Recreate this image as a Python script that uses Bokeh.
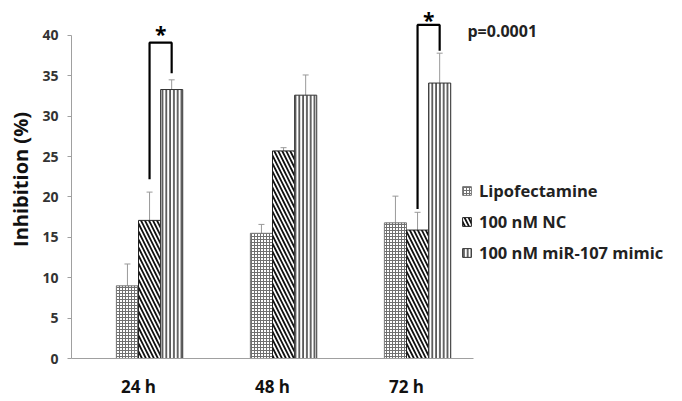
from bokeh.plotting import figure
from bokeh.models import (ColumnDataSource, Whisker, TeeHead, FixedTicker, Range1d,
                          Legend, LegendItem, Label)
from bokeh.core.properties import value
from bokeh.embed import file_html
from bokeh.resources import INLINE

# ---- data ----
categories = ["24 h", "48 h", "72 h"]
series_names = ["Lipofectamine", "100 nM NC", "100 nM miR-107 mimic"]
lipo = [9.0, 15.5, 16.8]
lipo_err = [2.7, 1.1, 3.3]
nc = [17.1, 25.7, 15.9]
nc_err = [3.5, 0.4, 2.2]
mimic = [33.3, 32.6, 34.1]
mimic_err = [1.2, 2.5, 3.7]
y_ticks = [0, 5, 10, 15, 20, 25, 30, 35, 40]

# significance brackets (between NC and mimic bars)
bracket_cat = [0, 2]
bracket_left_bottom = [22.2, 18.5]
bracket_top = [39.1, 41.3]
bracket_right_bottom = [35.3, 38.1]
star_y = [40.2, 41.9]
p_text = "p=0.0001"
p_y = 40.5

FONT = "Open Sans"
BAR_W = 0.165

p = figure(width=680, height=400, output_backend="svg", toolbar_location=None,
           x_range=Range1d(0, 609 / 134), y_range=Range1d(0, 359 / 8.1),
           min_border_left=71, min_border_right=0, min_border_top=0, min_border_bottom=41)
p.outline_line_color = None
p.xgrid.visible = False
p.ygrid.visible = False
p.background_fill_color = "white"

centers = [i + 0.5 for i in range(len(categories))]
offsets = [-0.5 * BAR_W, 0.5 * BAR_W, 1.5 * BAR_W]
vals = [lipo, nc, mimic]
errs = [lipo_err, nc_err, mimic_err]
styles = [
    dict(fill_color="white", line_color="#777777", hatch_pattern="+", hatch_color="#707070",
         hatch_scale=3.0, hatch_weight=1.0),
    dict(fill_color="white", line_color="#222222", hatch_pattern="\\", hatch_color="#111111",
         hatch_scale=8, hatch_weight=1.8),
    dict(fill_color="white", line_color="#333333", hatch_pattern="|", hatch_color="#444444",
         hatch_scale=3.8, hatch_weight=1.6),
]

renderers = []
for k in range(3):
    xs = [c + offsets[k] for c in centers]
    src = ColumnDataSource(dict(x=xs, top=vals[k],
                                upper=[v + e for v, e in zip(vals[k], errs[k])],
                                lower=[v - e for v, e in zip(vals[k], errs[k])]))
    r = p.vbar(x="x", top="top", bottom=0, width=BAR_W, source=src, line_width=1, **styles[k])
    renderers.append(r)
    w = Whisker(base="x", upper="upper", lower="lower", source=src,
                line_color="#999999", line_width=1,
                upper_head=TeeHead(size=6, line_color="#999999", line_width=1),
                lower_head=TeeHead(size=6, line_color="#999999", line_width=1))
    p.add_layout(w)

# brackets
for i, c in enumerate(bracket_cat):
    xl = centers[c] + offsets[1]
    xr = centers[c] + offsets[2]
    p.line([xl, xl, xr, xr],
           [bracket_left_bottom[i], bracket_top[i], bracket_top[i], bracket_right_bottom[i]],
           line_color="black", line_width=2.2)
    p.text(x=[(xl + xr) / 2], y=[star_y[i]], text=["*"],
           text_font=value(FONT), text_font_style="bold", text_font_size="21px",
           text_align="center", text_baseline="middle", text_color="black")

p.add_layout(Label(x=2.955, y=p_y, text=p_text, text_font=FONT, text_font_style="bold",
                   text_font_size="16px", text_baseline="middle", text_align="left",
                   text_color="#222222"))

# axes
p.yaxis.ticker = FixedTicker(ticks=y_ticks)
p.yaxis.bounds = (0, 40)
p.yaxis.axis_label = "Inhibition (%)"
p.yaxis.axis_label_text_font = FONT
p.yaxis.axis_label_text_font_style = "bold"
p.yaxis.axis_label_text_font_size = "20px"
p.yaxis.axis_label_text_color = "#111111"
p.yaxis.axis_label_standoff = 5
p.yaxis.major_label_text_font = FONT
p.yaxis.major_label_text_font_style = "bold"
p.yaxis.major_label_text_font_size = "14px"
p.yaxis.major_label_text_color = "#333333"
p.yaxis.axis_line_color = "#a0a0a0"
p.yaxis.major_tick_line_color = "#a0a0a0"
p.yaxis.major_tick_out = 4
p.yaxis.major_tick_in = 0
p.yaxis.minor_tick_line_color = None
p.yaxis.major_label_standoff = 9

p.xaxis.ticker = FixedTicker(ticks=centers)
p.xaxis.major_label_overrides = {c: lab for c, lab in zip(centers, categories)}
p.xaxis.bounds = (0, len(categories))
p.xaxis.major_label_text_font = FONT
p.xaxis.major_label_text_font_style = "bold"
p.xaxis.major_label_text_font_size = "17px"
p.xaxis.major_label_text_color = "#111111"
p.xaxis.axis_line_color = "#a0a0a0"
p.xaxis.major_tick_out = 0
p.xaxis.major_tick_in = 0
p.xaxis.minor_tick_line_color = None
p.xaxis.major_label_standoff = 16

legend = Legend(items=[LegendItem(label=n, renderers=[r]) for n, r in zip(series_names, renderers)],
                location=(390, 94), padding=0, margin=0, spacing=8,
                glyph_width=11, glyph_height=11, label_height=20, label_standoff=7,
                label_text_font=FONT, label_text_font_style="bold",
                label_text_font_size="16.5px", label_text_color="#222222",
                border_line_alpha=0, background_fill_alpha=0)
p.add_layout(legend)

open("out.html", "w").write(file_html(p, INLINE))
